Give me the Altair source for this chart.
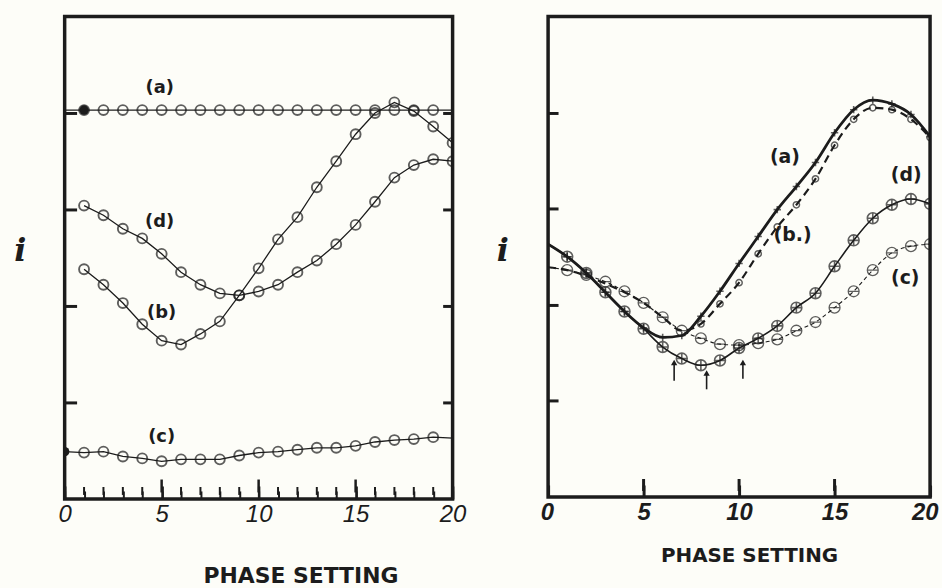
import altair as alt
import pandas as pd

INK = "#1c1c1c"
BG = "#fdfdf8"

# ---------------- data ----------------
PHASE = list(range(21))            # phase settings 0..20
PHASE_1 = list(range(1, 21))       # 1..20

# Left panel
LEFT_A = [4.03, 4.03, 4.03, 4.03, 4.03, 4.03, 4.03, 4.03, 4.03, 4.03, 4.03,
          4.03, 4.03, 4.03, 4.03, 4.03, 4.03, 4.03, 4.03, 4.03, 4.03]          # x 0..20
LEFT_B = [2.38, 2.22, 2.03, 1.81, 1.64, 1.60, 1.71, 1.84, 2.11, 2.39,
          2.69, 2.92, 3.23, 3.50, 3.78, 4.00, 4.11, 4.02, 3.86, 3.69]          # x 1..20
LEFT_D = [3.04, 2.94, 2.80, 2.70, 2.54, 2.35, 2.22, 2.13, 2.11, 2.15,
          2.22, 2.35, 2.47, 2.64, 2.84, 3.08, 3.33, 3.46, 3.52, 3.50]          # x 1..20
LEFT_C = [0.49, 0.48, 0.49, 0.44, 0.42, 0.39, 0.41, 0.41, 0.41, 0.45, 0.48,
          0.49, 0.51, 0.53, 0.53, 0.55, 0.59, 0.61, 0.62, 0.64, 0.63]          # x 0..20
LEFT_FILLED_X = [1, 0]          # the two dark (filled) points: (a) at 1, (c) at 0
LEFT_FILLED_Y = [4.03, 0.49]

# Right panel (x 0..20)
RIGHT_A = [2.63, 2.50, 2.33, 2.13, 1.93, 1.76, 1.66, 1.68, 1.88, 2.14, 2.43,
           2.71, 2.99, 3.23, 3.48, 3.79, 4.03, 4.13, 4.09, 3.98, 3.75]
RIGHT_B = [2.39, 2.36, 2.30, 2.22, 2.13, 2.02, 1.87, 1.73, 1.80, 2.01, 2.23,
           2.53, 2.81, 3.04, 3.31, 3.66, 3.93, 4.05, 4.03, 3.93, 3.74]
RIGHT_C = [2.39, 2.36, 2.31, 2.24, 2.14, 2.02, 1.87, 1.73, 1.65, 1.59, 1.58,
           1.60, 1.64, 1.73, 1.82, 1.97, 2.14, 2.36, 2.54, 2.61, 2.63]
RIGHT_D = [2.63, 2.50, 2.33, 2.13, 1.93, 1.75, 1.56, 1.44, 1.37, 1.42, 1.55,
           1.65, 1.78, 1.97, 2.12, 2.40, 2.67, 2.90, 3.04, 3.10, 3.05]

LEFT_LABELS = ["(a)", "(d)", "(b)", "(c)"]
LEFT_LABEL_X = [4.9, 4.9, 5.0, 5.0]
LEFT_LABEL_Y = [4.26, 2.87, 1.93, 0.64]

RIGHT_LABELS = ["(a)", "(b.)", "(d)", "(c)"]
RIGHT_LABEL_X = [12.4, 12.8, 18.75, 18.7]
RIGHT_LABEL_Y = [3.54, 2.73, 3.35, 2.28]

ARROW_X = [6.6, 8.3, 10.2]
ARROW_TIP = [1.40, 1.29, 1.40]
ARROW_TAIL = [1.21, 1.12, 1.23]

Y_TICKS = [1, 2, 3, 4]
X_MAJOR = [0, 5, 10, 15, 20]
X_MINOR_TICKS = [1, 2, 3, 4, 6, 7, 8, 9, 11, 12, 13, 14, 16, 17, 18, 19]
X_MID_TICKS = [5, 10, 15]

# ---------------- tables ----------------
def rows(series, xs, ys, mlo, mhi):
    return [{"s": series, "x": x, "y": y, "m": mlo <= x <= mhi} for x, y in zip(xs, ys)]

left_df = pd.DataFrame(
    rows("a", PHASE, LEFT_A, 1, 19)
    + rows("b", PHASE_1, LEFT_B, 1, 20)
    + rows("d", PHASE_1, LEFT_D, 1, 20)
    + rows("c", PHASE, LEFT_C, 1, 19)
)
right_df = pd.DataFrame(
    rows("a", PHASE, RIGHT_A, 1, 20)
    + rows("b", PHASE, RIGHT_B, 8, 20)
    + rows("c", PHASE, RIGHT_C, 1, 20)
    + rows("d", PHASE, RIGHT_D, 1, 20)
)
left_filled = pd.DataFrame({"x": LEFT_FILLED_X, "y": LEFT_FILLED_Y})
left_lab = pd.DataFrame({"t": LEFT_LABELS, "x": LEFT_LABEL_X, "y": LEFT_LABEL_Y})
right_lab = pd.DataFrame({"t": RIGHT_LABELS, "x": RIGHT_LABEL_X, "y": RIGHT_LABEL_Y})
arrows = pd.DataFrame({"x": ARROW_X, "tip": ARROW_TIP, "tail": ARROW_TAIL})
minor_df = pd.DataFrame({"x": X_MINOR_TICKS})
mid_df = pd.DataFrame({"x": X_MID_TICKS})

XS = alt.Scale(domain=[0, 20], nice=False, zero=False)
YS = alt.Scale(domain=[0, 5], nice=False, zero=False)

TITLE_FONT = "DejaVu Sans"

def xnone(f="x:Q"):
    return alt.X(f, scale=XS, axis=None)

def ynone(f="y:Q"):
    return alt.Y(f, scale=YS, axis=None)

def bottom_ticks(df, length, thickness):
    # vertical tick marks standing on the bottom edge of the frame, pointing inwards
    return alt.Chart(df).mark_tick(
        orient="vertical", size=length, thickness=thickness, color=INK,
        yOffset=-length, opacity=1
    ).encode(x=xnone(), y=alt.Y(datum=0, scale=YS, axis=None))

# ---------------- left panel ----------------
l_x_minor = alt.Axis(orient="bottom", values=PHASE, tickSize=8, offset=-8, tickWidth=2,
                     tickColor=INK, labels=False, domain=False, grid=False,
                     title="PHASE SETTING", titleFont=TITLE_FONT, titleFontSize=22,
                     titleFontWeight="bold", titleColor=INK, titleX=237, titleY=85,
                     titleAlign="center", titleBaseline="middle")
l_y_left = alt.Axis(orient="left", values=Y_TICKS, tickSize=12, offset=-12, tickWidth=3,
                    tickColor=INK, labels=False, domain=False, grid=False,
                    title="i", titleAngle=0, titleX=-57, titleY=235,
                    titleFont="DejaVu Serif", titleFontStyle="italic", titleFontWeight="bold",
                    titleFontSize=32, titleColor=INK, titleAlign="center", titleBaseline="middle")
l_x_major = alt.Axis(orient="bottom", values=X_MAJOR, tickSize=13, offset=-13, tickWidth=2.5,
                     tickColor=INK, labels=True, labelFont="Liberation Sans",
                     labelFontStyle="italic", labelFontSize=24, labelPadding=4,
                     labelFlush=False, labelColor=INK, domain=False, grid=False, title=None)
l_y_right = alt.Axis(orient="right", values=Y_TICKS, tickSize=10, offset=-10, tickWidth=3,
                     tickColor=INK, labels=False, domain=False, grid=False, title=None)

left_lines = alt.Chart(left_df).mark_line(strokeWidth=1.3, color=INK, clip=True).encode(
    x=alt.X("x:Q", scale=XS, axis=l_x_minor),
    y=alt.Y("y:Q", scale=YS, axis=l_y_left),
    detail="s:N",
)
left_pts = alt.Chart(left_df).transform_filter("datum.m").mark_point(
    shape="circle", size=100, filled=False, strokeWidth=1.9, color=INK, clip=True
).encode(
    x=alt.X("x:Q", scale=XS, axis=l_x_major),
    y=alt.Y("y:Q", scale=YS, axis=l_y_right),
)
left_dots = alt.Chart(left_filled).mark_point(
    shape="circle", size=90, filled=True, color=INK, opacity=1, clip=True
).encode(x=xnone(), y=ynone())
left_text = alt.Chart(left_lab).mark_text(
    font="DejaVu Sans", fontWeight="bold", fontSize=18, color=INK
).encode(x=xnone(), y=ynone(), text="t:N")

left = alt.layer(
    left_lines, left_pts, left_dots, left_text,
    bottom_ticks(minor_df, 8, 2), bottom_ticks(mid_df, 13, 2.5)
).resolve_axis(x="independent", y="independent").properties(width=390, height=485)

# ---------------- right panel ----------------
r_x = alt.Axis(orient="bottom", values=X_MAJOR, tickSize=12, offset=-12, tickWidth=3,
               tickColor=INK, labels=True, labelFont="Liberation Sans",
               labelFontStyle="italic", labelFontWeight="bold", labelFontSize=24,
               labelPadding=4, labelColor=INK, labelFlush=True, labelFlushOffset=8,
               domain=False, grid=False,
               title="PHASE SETTING", titleFont=TITLE_FONT, titleFontSize=20,
               titleFontWeight="bold", titleColor=INK, titleX=202, titleY=71,
               titleAlign="center", titleBaseline="middle")
r_y = alt.Axis(orient="left", values=Y_TICKS, tickSize=10, offset=-10, tickWidth=3,
               tickColor=INK, labels=False, domain=False, grid=False,
               title="i", titleAngle=0, titleX=-56, titleY=235,
               titleFont="DejaVu Serif", titleFontStyle="italic", titleFontWeight="bold",
               titleFontSize=32, titleColor=INK, titleAlign="center", titleBaseline="middle")

rbase = alt.Chart(right_df)

def rline(series, **kw):
    return rbase.transform_filter(f"datum.s == '{series}'").mark_line(
        color=INK, interpolate="monotone", clip=True, **kw
    ).encode(x=xnone(), y=ynone())

def rpts(series, **kw):
    return rbase.transform_filter(f"datum.s == '{series}' && datum.m").mark_point(
        color=INK, filled=False, clip=True, **kw
    ).encode(x=xnone(), y=ynone())

ra_line = rbase.transform_filter("datum.s == 'a'").mark_line(
    color=INK, interpolate="monotone", clip=True, strokeWidth=2.8
).encode(x=alt.X("x:Q", scale=XS, axis=r_x), y=alt.Y("y:Q", scale=YS, axis=r_y))
rb_line = rline("b", strokeWidth=2.2, strokeDash=[8, 5])
rc_line = rline("c", strokeWidth=1.1, strokeDash=[4, 3])
rd_line = rline("d", strokeWidth=1.6)

CIRC = "M-1,0A1,1 0 1,1 1,0A1,1 0 1,1 -1,0Z"
ra_pts = rpts("a", shape="M-1,0L1,0M0,-1L0,1", size=55, strokeWidth=1.6)
rb_pts = rpts("b", shape="circle", size=40, strokeWidth=1.5)
rc_pts = rpts("c", shape=CIRC + "M-1,0L1,0", size=120, strokeWidth=1.3)
rd_pts = rpts("d", shape=CIRC + "M-1,0L1,0M0,-1L0,1", size=120, strokeWidth=1.6)

arrow_shaft = alt.Chart(arrows).mark_rule(color=INK, strokeWidth=1.6).encode(
    x=xnone(), y=ynone("tail:Q"), y2="tip:Q"
)
arrow_head = alt.Chart(arrows).mark_point(
    shape="triangle-up", size=40, filled=True, color=INK, opacity=1
).encode(x=xnone(), y=ynone("tip:Q"))

right_text = alt.Chart(right_lab).mark_text(
    font="DejaVu Sans", fontWeight="bold", fontSize=19, color=INK
).encode(x=xnone(), y=ynone(), text="t:N")

right = alt.layer(
    ra_line, rb_line, rc_line, rd_line, ra_pts, rb_pts, rc_pts, rd_pts,
    arrow_shaft, arrow_head, right_text, bottom_ticks(mid_df, 12, 3)
).resolve_axis(x="independent", y="independent").properties(width=384, height=483)

chart = alt.hconcat(left, right, spacing=96, bounds="flush").properties(
    padding={"left": 12, "top": 13, "right": 2, "bottom": 0},
    background=BG,
).configure_view(stroke=INK, strokeWidth=3.5)

chart.save("out.html", embed_options={"renderer": "svg", "actions": False})
